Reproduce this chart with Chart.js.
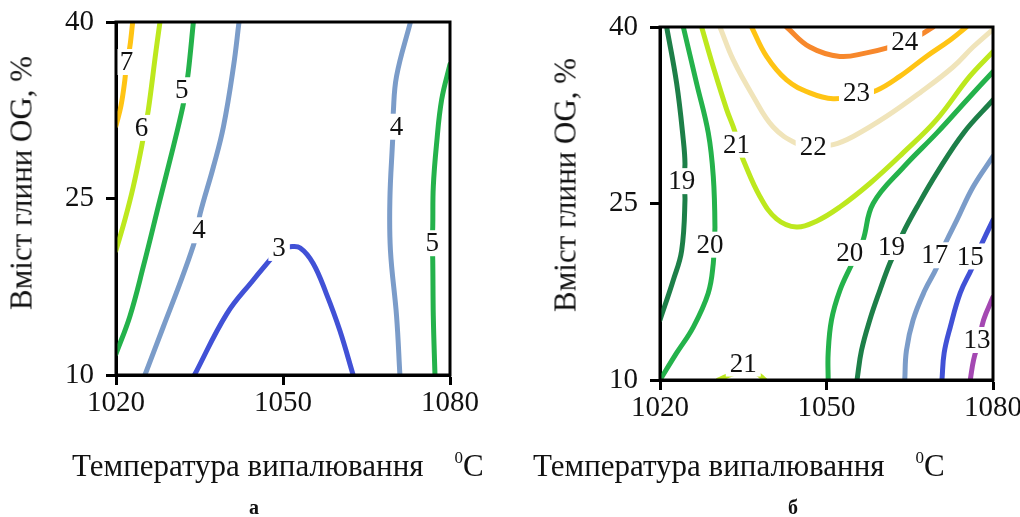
<!DOCTYPE html>
<html lang="uk">
<head>
<meta charset="utf-8">
<title>Контурні діаграми</title>
<script src="https://cdn.jsdelivr.net/npm/chart.js@4.4.1/dist/chart.umd.min.js"></script>
<style>
  html, body { margin: 0; padding: 0; background: #fff; }
  #wrap { position: relative; width: 1020px; height: 517px; overflow: hidden;
          font-family: "Liberation Serif", "Times New Roman", serif; color: #111; }
  .panel { position: absolute; top: 0; width: 510px; height: 517px; }
  .xtitle { position: absolute; top: 450px; font-size: 31px; line-height: 31px; white-space: nowrap; }
  .xtitle .deg { font-size: 17px; position: relative; top: -13px; margin-left: 31px; }
  .ytitle { position: absolute; font-size: 31px; line-height: 31px; white-space: nowrap;
            transform: translate(-50%, -50%) rotate(-90deg); }
  .letter { position: absolute; top: 497px; font-size: 20px; line-height: 20px; font-weight: bold;
            transform: translateX(-50%); }
</style>
</head>
<body>
<div id="wrap">
  <div class="panel" style="left:0"><canvas id="chartA" width="510" height="517"></canvas></div>
  <div class="panel" style="left:510px"><canvas id="chartB" width="510" height="517"></canvas></div>

  <div class="ytitle" style="left:21px; top:183px">Вміст глини OG, %</div>
  <div class="ytitle" style="left:565px; top:185px">Вміст глини OG, %</div>
  <div class="xtitle" style="left:72px">Температура випалювання<span class="deg">0</span>C</div>
  <div class="xtitle" style="left:533px">Температура випалювання<span class="deg">0</span>C</div>
  <div class="letter" style="left:254px">а</div>
  <div class="letter" style="left:793px">б</div>
</div>

<script>
const xTicks = [1020, 1050, 1080];
const yTicks = [10, 25, 40];

// panel а: one entry per contour line, points are [temperature °C, clay %]
const levelsA = [7, 6, 5, 4, 3, 4, 5];
const linesA = [
  [[1023.0, 40], [1022.4, 37.6], [1021.9, 36.6], [1021.6, 35.1], [1020.9, 32.9], [1020, 31.2]],
  [[1027.9, 40], [1027.2, 37.6], [1025.8, 32.5], [1025.2, 31.0], [1024.6, 29.4], [1023.1, 26.0],
   [1021.6, 23.2], [1020, 20.6]],
  [[1033.9, 40], [1033.0, 35.8], [1032.5, 34.2], [1032.0, 32.8], [1030.3, 29.4], [1027.9, 24.9],
   [1024.9, 19.2], [1022.5, 15.0], [1020, 11.8]],
  [[1042.1, 40], [1041.1, 36.2], [1039.3, 31.1], [1037.5, 27.7], [1035.1, 23.7], [1034.6, 22.3],
   [1033.9, 21.0], [1031.5, 17.8], [1028.5, 14.1], [1025.2, 10]],
  [[1034.1, 10], [1039.9, 15.2], [1044.7, 18.1], [1047.7, 19.8], [1049.3, 20.7], [1051.3, 20.9],
   [1053.1, 20.8], [1055.4, 19.5], [1057.8, 16.9], [1060.2, 13.8], [1062.6, 10]],
  [[1072.9, 40], [1070.4, 35.4], [1069.8, 32.2], [1069.8, 31.1], [1069.7, 30.0], [1069.2, 24.9],
   [1069.3, 20.6], [1070.4, 15.0], [1071.0, 10]],
  [[1080, 36.4], [1078.5, 33.4], [1077.6, 29.7], [1077.0, 26.0], [1076.9, 22.6], [1076.8, 21.2],
   [1076.9, 19.8], [1077.0, 15.0], [1077.3, 10]]
];
const labelsA = [
  [1021.9, 36.6], [1024.6, 31.0], [1031.8, 34.2], [1034.9, 22.3], [1049.3, 20.8], [1070.4, 31.1], [1076.8, 21.2]
];

// panel б
const levelsB = [24, 23, 22, 21, 20, 19, 17, 15, 13, 19, 20, 21];
const linesB = [
  [[1042.8, 40], [1047.0, 38.3], [1052.4, 37.5], [1057.2, 37.8], [1060.8, 38.2], [1064.1, 38.75],
   [1066.8, 39.3], [1069.2, 40]],
  [[1036.5, 40], [1039.2, 37.5], [1042.8, 35.5], [1047.0, 34.4], [1051.2, 33.9], [1055.4, 34.2],
   [1059.0, 34.6], [1063.2, 35.8], [1068.0, 37.5], [1072.3, 38.9], [1075.2, 40]],
  [[1030.8, 40], [1033.2, 37.2], [1036.8, 34.1], [1040.4, 31.5], [1044.6, 30.1], [1047.6, 29.8],
   [1051.2, 30.0], [1054.8, 30.7], [1060.8, 32.4], [1066.8, 34.4], [1072.8, 36.6], [1076.4, 38.3],
   [1080, 39.8]],
  [[1027.5, 40], [1029.6, 36.6], [1032.0, 33.0], [1033.5, 31.1], [1034.0, 30.0], [1035.0, 28.7],
   [1038.0, 25.6], [1041.0, 23.7], [1044.6, 23.0], [1048.2, 23.5], [1052.4, 24.7], [1057.8, 26.7],
   [1063.8, 29.3], [1069.8, 32.1], [1075.8, 35.8], [1080, 37.9]],
  [[1080, 36.2], [1075.3, 33.8], [1069.9, 31.0], [1063.9, 28.1], [1058.4, 25.0], [1056.6, 21.9],
   [1055.5, 20.8], [1054.5, 19.8], [1052.4, 17.6], [1050.9, 15.1], [1050.3, 12.3], [1050.3, 10]],
  [[1080, 33.8], [1074.7, 31.0], [1069.9, 27.6], [1066.3, 24.7], [1063.8, 22.5], [1062.7, 21.2],
   [1061.4, 19.9], [1059.6, 17.6], [1057.8, 15.1], [1056.3, 12.5], [1055.5, 10]],
  [[1080, 29.0], [1076.4, 26.4], [1073.5, 23.6], [1071.7, 21.9], [1070.6, 20.7], [1069.9, 19.6],
   [1067.7, 17.6], [1065.6, 15.1], [1064.4, 12.5], [1064.1, 10]],
  [[1080, 23.6], [1077.7, 21.3], [1076.9, 20.4], [1076.2, 19.5], [1074.1, 17.4], [1072.3, 14.5],
   [1071.2, 12.3], [1070.8, 10]],
  [[1080, 17.05], [1078.3, 15.1], [1077.5, 13.4], [1076.5, 11.7], [1075.9, 10]],
  [[1021.2, 40], [1023.0, 35.2], [1024.2, 30.4], [1024.5, 28.4], [1024.3, 26.9], [1024.5, 25.3],
   [1023.9, 21.0], [1022.4, 18.5], [1020, 15.1]],
  [[1024.2, 40], [1026.6, 35.2], [1028.7, 31.0], [1029.6, 27.3], [1029.9, 23.0], [1029.7, 21.5],
   [1029.6, 19.9], [1028.7, 17.4], [1026.0, 14.5], [1023.0, 12.3], [1020, 10]],
  [[1030.5, 10], [1033.2, 10.55], [1035.0, 10.7], [1037.4, 10.55], [1038.9, 10]]
];
const labelsB = [
  [1064.1, 38.75], [1055.4, 34.4], [1047.6, 29.8], [1033.8, 30.0], [1054.2, 20.8], [1061.7, 21.3],
  [1069.5, 20.6], [1075.9, 20.5], [1077.1, 13.4], [1023.9, 26.9], [1029.0, 21.5], [1035.0, 11.4]
];

const levelColors = {
  3: '#4151d6', 15: '#4151d6',
  4: '#7b9cc9', 17: '#7b9cc9',
  5: '#24b24b', 20: '#24b24b',
  6: '#bde81e', 21: '#bde81e',
  7: '#ffc414', 23: '#ffc414',
  13: '#a448b2',
  19: '#1d7f48',
  22: '#f0e4ba',
  24: '#f7882c'
};

const serif = '"Liberation Serif", "Times New Roman", serif';
const tickFont = { family: serif, size: 29 };

// level numbers sit on a white patch that breaks the line, then the plot frame on top
const levelLabels = {
  id: 'levelLabels',
  afterDatasetsDraw(chart, args, opts) {
    const { ctx, scales: { x, y } } = chart;
    ctx.save();
    ctx.font = '27px ' + serif;
    ctx.textAlign = 'center';
    ctx.textBaseline = 'middle';
    opts.levels.forEach((lv, i) => {
      const px = x.getPixelForValue(opts.at[i][0]);
      const py = y.getPixelForValue(opts.at[i][1]);
      const txt = String(lv);
      const w = ctx.measureText(txt).width + 8;
      ctx.fillStyle = '#fff';
      ctx.fillRect(px - w / 2, py - 13, w, 26);
      ctx.fillStyle = '#111';
      ctx.fillText(txt, px, py + 1);
    });
    ctx.restore();
  },
  afterDraw(chart) {
    const { ctx, chartArea: a } = chart;
    ctx.save();
    ctx.strokeStyle = '#000';
    ctx.lineWidth = 3;
    ctx.strokeRect(a.left, a.top, a.right - a.left, a.bottom - a.top);
    ctx.restore();
  }
};

function makePanel(id, levels, lines, labelAt, box) {
  const datasets = levels.map((lv, i) => ({
    data: lines[i].map(p => ({ x: p[0], y: p[1] })),
    showLine: true,
    borderColor: levelColors[lv],
    borderWidth: 5,
    borderCapStyle: 'round',
    borderJoinStyle: 'round',
    pointRadius: 0,
    tension: 0.4,
    clip: 0
  }));
  const axisGrid = { drawOnChartArea: false, tickLength: 10, tickWidth: 3, tickColor: '#000' };
  return new Chart(document.getElementById(id), {
    type: 'scatter',
    data: { datasets },
    options: {
      responsive: false,
      animation: false,
      events: [],
      layout: { padding: { top: box.top, right: box.right, left: 0, bottom: 0 } },
      plugins: {
        legend: { display: false },
        tooltip: { enabled: false },
        levelLabels: { levels, at: labelAt }
      },
      scales: {
        x: {
          type: 'linear', min: 1020, max: 1080,
          afterBuildTicks: s => { s.ticks = xTicks.map(v => ({ value: v })); },
          afterFit: s => { s.height = box.xh; s.paddingLeft = 0; s.paddingRight = 0; },
          ticks: { font: tickFont, color: '#111', padding: 1, maxRotation: 0, autoSkip: false,
                   callback: v => String(v) },
          grid: axisGrid,
          border: { color: '#000', width: 3 }
        },
        y: {
          type: 'linear', min: 10, max: 40,
          afterBuildTicks: s => { s.ticks = yTicks.map(v => ({ value: v })); },
          afterFit: s => { s.width = box.yw; s.paddingTop = 0; s.paddingBottom = 0; },
          ticks: { font: tickFont, color: '#111', padding: 12, callback: v => String(v) },
          grid: axisGrid,
          border: { color: '#000', width: 3 }
        }
      }
    },
    plugins: [levelLabels]
  });
}

makePanel('chartA', levelsA, linesA, labelsA, { top: 22, right: 60, yw: 116, xh: 142 });
makePanel('chartB', levelsB, linesB, labelsB, { top: 27, right: 27, yw: 150, xh: 137 });
</script>
</body>
</html>
